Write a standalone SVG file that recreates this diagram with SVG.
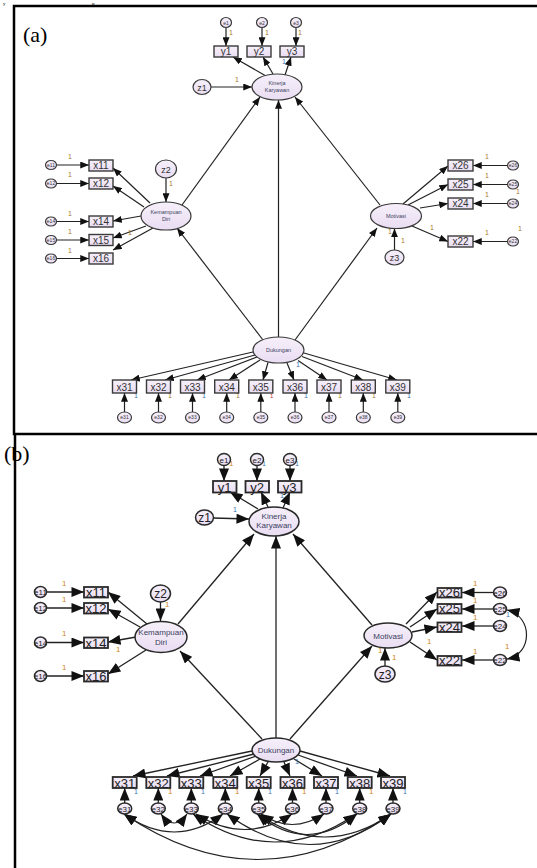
<svg xmlns="http://www.w3.org/2000/svg" width="537" height="868" viewBox="0 0 537 868">
<defs>
  <marker id="ah" viewBox="0 0 10 8" refX="10" refY="4" markerWidth="9" markerHeight="7" markerUnits="userSpaceOnUse" orient="auto">
    <path d="M0,0 L10,4 L0,8 z" fill="#111"/>
  </marker>
  <marker id="ahb" viewBox="0 0 10 8" refX="10" refY="4" markerWidth="13" markerHeight="10" markerUnits="userSpaceOnUse" orient="auto-start-reverse">
    <path d="M0,0 L10,4 L0,8 z" fill="#111"/>
  </marker>
  <linearGradient id="fillg" x1="0" y1="0" x2="0" y2="1">
    <stop offset="0" stop-color="#f6f0fa"/>
    <stop offset="1" stop-color="#e9ddf2"/>
  </linearGradient>
</defs>
<style>
  .frame{fill:none;stroke:#000;stroke-width:2.5}
  .cap{font-family:"Liberation Serif","Times New Roman",serif;font-size:22px;fill:#000}
  .frag{font-family:"Liberation Serif","Times New Roman",serif;font-size:5px;fill:#000}
  .lat{fill:url(#fillg);stroke:#3a3a3a;stroke-width:1.2}
  .obs{fill:url(#fillg);stroke:#3a3a3a;stroke-width:1.4}
  .latb{fill:url(#fillg);stroke:#2a2a2a;stroke-width:1.5}
  .obsb{fill:url(#fillg);stroke:#2a2a2a;stroke-width:1.8}
  .a{stroke:#222;stroke-width:1.2;fill:none;marker-end:url(#ah)}
  .b{stroke:#222;stroke-width:1.3;fill:none;marker-end:url(#ahb)}
  .cv{stroke:#222;stroke-width:1.2;fill:none;marker-start:url(#ahb);marker-end:url(#ahb)}
  .t{font-family:"Liberation Sans",Arial,sans-serif;text-anchor:middle;fill:#333}
  .tb{font-family:"Liberation Sans",Arial,sans-serif;text-anchor:middle;fill:#222}
  .lv{font-family:"Liberation Sans",Arial,sans-serif;text-anchor:middle;fill:#3c4260;font-size:5.5px}
  .lvb{font-family:"Liberation Sans",Arial,sans-serif;text-anchor:middle;fill:#3c4260;font-size:8px}
  .ev{font-family:"Liberation Sans",Arial,sans-serif;text-anchor:middle;fill:#333;font-size:5px}
  .evb{font-family:"Liberation Sans",Arial,sans-serif;text-anchor:middle;fill:#222;font-size:8px}
  .one{font-family:"Liberation Sans",Arial,sans-serif;font-size:7px;fill:#a8781e}
  .oneb{font-family:"Liberation Sans",Arial,sans-serif;font-size:8px;fill:#d08a1a}
  .blu{font-family:"Liberation Sans",Arial,sans-serif;font-size:7px;fill:#3a6fb5}
</style>

<!-- tail of the line above the figure -->
<text class="frag" x="3" y="4.8">y</text>
<text class="frag" x="92" y="4.8">p</text>

<!-- panel frames -->
<path class="frame" d="M540,6 H14 V434 H540"/>
<path class="frame" d="M15,433 V870"/>
<text class="cap" x="23" y="42">(a)</text>
<text class="cap" x="4" y="461">(b)</text>

<!-- ===================== PANEL (a) ===================== -->
<g id="a-connectors">
  <!-- errors to indicators -->
  <line class="a" x1="226" y1="28" x2="226" y2="46"/>
  <line class="a" x1="262" y1="28" x2="262" y2="46"/>
  <line class="a" x1="296" y1="28" x2="296" y2="46"/>
  <line class="a" x1="266" y1="76" x2="233" y2="57"/>
  <line class="a" x1="273" y1="74" x2="263" y2="57"/>
  <line class="a" x1="285" y1="75" x2="291" y2="57"/>
  <line class="a" x1="211" y1="87" x2="252" y2="87"/>

  <line class="a" x1="56" y1="165" x2="89" y2="165"/>
  <line class="a" x1="56" y1="183.5" x2="89" y2="183.5"/>
  <line class="a" x1="56" y1="221.5" x2="89" y2="221.5"/>
  <line class="a" x1="56" y1="240" x2="89" y2="240"/>
  <line class="a" x1="56" y1="258.5" x2="89" y2="258.5"/>
  <line class="a" x1="166" y1="178" x2="166" y2="202"/>
  <line class="a" x1="150" y1="203" x2="113" y2="168"/>
  <line class="a" x1="144" y1="207" x2="113" y2="186"/>
  <line class="a" x1="141" y1="216" x2="113" y2="221"/>
  <line class="a" x1="146" y1="226" x2="113" y2="238"/>
  <line class="a" x1="153" y1="228" x2="113" y2="250"/>

  <line class="a" x1="508" y1="165.5" x2="473" y2="165.5"/>
  <line class="a" x1="508" y1="184.5" x2="473" y2="184.5"/>
  <line class="a" x1="508" y1="203.5" x2="473" y2="203.5"/>
  <line class="a" x1="508" y1="241.5" x2="473" y2="241.5"/>
  <line class="a" x1="403" y1="204" x2="448" y2="166"/>
  <line class="a" x1="408" y1="205" x2="448" y2="184.5"/>
  <line class="a" x1="420" y1="208" x2="448" y2="203.5"/>
  <line class="a" x1="412" y1="226" x2="448" y2="241.5"/>
  <line class="a" x1="394.5" y1="250" x2="394.5" y2="228.5"/>

  <!-- structural paths -->
  <line class="a" x1="182" y1="205" x2="260" y2="97"/>
  <line class="a" x1="380" y1="205" x2="295" y2="97"/>
  <line class="a" x1="278.5" y1="337" x2="278.5" y2="100"/>
  <line class="a" x1="263" y1="340" x2="177" y2="228"/>
  <line class="a" x1="295" y1="340" x2="377" y2="228"/>

  <!-- Dukungan indicators -->
  <line class="a" x1="253" y1="352" x2="131" y2="380"/>
  <line class="a" x1="255" y1="355" x2="165" y2="380"/>
  <line class="a" x1="257" y1="357" x2="197" y2="380"/>
  <line class="a" x1="260" y1="360" x2="229" y2="380"/>
  <line class="a" x1="268" y1="362.5" x2="263" y2="380"/>
  <line class="a" x1="287" y1="363" x2="294" y2="380"/>
  <line class="a" x1="298" y1="360.5" x2="327" y2="380"/>
  <line class="a" x1="302" y1="356.5" x2="363" y2="380"/>
  <line class="a" x1="304" y1="353" x2="397" y2="380"/>

  <line class="a" x1="124.5" y1="412" x2="124.5" y2="393"/>
  <line class="a" x1="158.5" y1="412" x2="158.5" y2="393"/>
  <line class="a" x1="192.5" y1="412" x2="192.5" y2="393"/>
  <line class="a" x1="226.7" y1="412" x2="226.7" y2="393"/>
  <line class="a" x1="260.8" y1="412" x2="260.8" y2="393"/>
  <line class="a" x1="295" y1="412" x2="295" y2="393"/>
  <line class="a" x1="329" y1="412" x2="329" y2="393"/>
  <line class="a" x1="363.3" y1="412" x2="363.3" y2="393"/>
  <line class="a" x1="397.8" y1="412" x2="397.8" y2="393"/>
</g>

<g id="a-weights">
  <text class="one" x="229" y="35">1</text>
  <text class="one" x="265" y="35">1</text>
  <text class="one" x="298" y="35">1</text>
  <text class="blu" x="282" y="64">1</text>
  <text class="one" x="235" y="82">1</text>
  <text class="one" x="68" y="159">1</text>
  <text class="one" x="68" y="177">1</text>
  <text class="one" x="68" y="216">1</text>
  <text class="one" x="68" y="234">1</text>
  <text class="one" x="68" y="253">1</text>
  <text class="one" x="169" y="186">1</text>
  <text class="one" x="128" y="235">1</text>
  <text class="one" x="485" y="159">1</text>
  <text class="one" x="485" y="178">1</text>
  <text class="one" x="485" y="197">1</text>
  <text class="one" x="485" y="235">1</text>
  <text class="one" x="516" y="194">1</text>
  <text class="one" x="518" y="231">1</text>
  <text class="one" x="430" y="230">1</text>
  <text class="one" x="388" y="234">1</text>
  <text class="one" x="401" y="243">1</text>
  <text class="blu" x="296" y="367">1</text>
  <text class="blu" x="134" y="398" font-size="6">1</text>
  <text class="one" x="168" y="398" font-size="6">1</text>
  <text class="blu" x="202" y="398" font-size="6">1</text>
  <text class="one" x="236" y="398" font-size="6">1</text>
  <text fill="#c03030" font-family="Liberation Sans" font-size="6" x="270" y="398">1</text>
  <text class="blu" x="304" y="398" font-size="6">1</text>
  <text class="one" x="338" y="398" font-size="6">1</text>
  <text class="one" x="372" y="398" font-size="6">1</text>
  <text class="blu" x="407" y="398" font-size="6">1</text>
</g>

<g id="a-e1"><ellipse class="lat" cx="226" cy="22.5" rx="5.5" ry="5"/><text class="ev" x="226" y="24.5">e1</text></g>
<g id="a-e2"><ellipse class="lat" cx="262" cy="22.5" rx="5.5" ry="5"/><text class="ev" x="262" y="24.5">e2</text></g>
<g id="a-e3"><ellipse class="lat" cx="296" cy="22.5" rx="5.5" ry="5"/><text class="ev" x="296" y="24.5">e3</text></g>
<g id="a-y1"><rect class="obs" x="214" y="46" width="24" height="11"/><text class="t" x="226" y="55" font-size="10">y1</text></g>
<g id="a-y2"><rect class="obs" x="247" y="46" width="24" height="11"/><text class="t" x="259" y="55" font-size="10">y2</text></g>
<g id="a-y3"><rect class="obs" x="280" y="46" width="24" height="11"/><text class="t" x="292" y="55" font-size="10">y3</text></g>
<g id="a-z1"><ellipse class="lat" cx="202" cy="87" rx="9" ry="7.5"/><text class="t" x="202" y="90.5" font-size="9">z1</text></g>
<g id="a-kinerja"><ellipse class="lat" cx="277" cy="87" rx="25" ry="13"/><text class="lv" x="277" y="85">Kinerja</text><text class="lv" x="277" y="92">Karyawan</text></g>

<g id="a-e11"><ellipse class="lat" cx="51" cy="165" rx="5.5" ry="4.5"/><text class="ev" x="51" y="166.8" font-size="4.5">e11</text></g>
<g id="a-e12"><ellipse class="lat" cx="51" cy="183.5" rx="5.5" ry="4.5"/><text class="ev" x="51" y="185.3" font-size="4.5">e12</text></g>
<g id="a-e14"><ellipse class="lat" cx="51" cy="221.5" rx="5.5" ry="4.5"/><text class="ev" x="51" y="223.3" font-size="4.5">e14</text></g>
<g id="a-e15"><ellipse class="lat" cx="51" cy="240" rx="5.5" ry="4.5"/><text class="ev" x="51" y="241.8" font-size="4.5">e15</text></g>
<g id="a-e16"><ellipse class="lat" cx="51" cy="258.5" rx="5.5" ry="4.5"/><text class="ev" x="51" y="260.3" font-size="4.5">e16</text></g>
<g id="a-x11"><rect class="obs" x="89" y="160" width="24" height="11"/><text class="t" x="101" y="169" font-size="10">x11</text></g>
<g id="a-x12"><rect class="obs" x="89" y="178" width="24" height="11"/><text class="t" x="101" y="187" font-size="10">x12</text></g>
<g id="a-x14"><rect class="obs" x="89" y="216" width="24" height="11"/><text class="t" x="101" y="225" font-size="10">x14</text></g>
<g id="a-x15"><rect class="obs" x="89" y="234.5" width="24" height="11"/><text class="t" x="101" y="243.5" font-size="10">x15</text></g>
<g id="a-x16"><rect class="obs" x="89" y="253" width="24" height="11"/><text class="t" x="101" y="262" font-size="10">x16</text></g>
<g id="a-z2"><ellipse class="lat" cx="166" cy="169" rx="10.5" ry="9"/><text class="t" x="166" y="172.5" font-size="9">z2</text></g>
<g id="a-kemampuan"><ellipse class="lat" cx="166" cy="216" rx="25" ry="14"/><text class="lv" x="166" y="214">Kemampuan</text><text class="lv" x="166" y="221">Diri</text></g>

<g id="a-x26"><rect class="obs" x="448" y="160" width="25" height="11"/><text class="t" x="460.5" y="169" font-size="10">x26</text></g>
<g id="a-x25"><rect class="obs" x="448" y="179" width="25" height="11"/><text class="t" x="460.5" y="188" font-size="10">x25</text></g>
<g id="a-x24"><rect class="obs" x="448" y="198" width="25" height="11"/><text class="t" x="460.5" y="207" font-size="10">x24</text></g>
<g id="a-x22"><rect class="obs" x="448" y="236" width="25" height="11"/><text class="t" x="460.5" y="245" font-size="10">x22</text></g>
<g id="a-e26"><ellipse class="lat" cx="513" cy="165.5" rx="5.5" ry="4.5"/><text class="ev" x="513" y="167.3" font-size="4.5">e26</text></g>
<g id="a-e25"><ellipse class="lat" cx="513" cy="184.5" rx="5.5" ry="4.5"/><text class="ev" x="513" y="186.3" font-size="4.5">e25</text></g>
<g id="a-e24"><ellipse class="lat" cx="513" cy="203.5" rx="5.5" ry="4.5"/><text class="ev" x="513" y="205.3" font-size="4.5">e24</text></g>
<g id="a-e22"><ellipse class="lat" cx="513" cy="241.5" rx="5.5" ry="4.5"/><text class="ev" x="513" y="243.3" font-size="4.5">e22</text></g>
<g id="a-motivasi"><ellipse class="lat" cx="396" cy="216" rx="25.5" ry="12.5"/><text class="lv" x="396" y="218">Motivasi</text></g>
<g id="a-z3"><ellipse class="lat" cx="394.5" cy="257.5" rx="9.5" ry="7.5"/><text class="t" x="394.5" y="261" font-size="9">z3</text></g>

<g id="a-dukungan"><ellipse class="lat" cx="278.5" cy="350" rx="25.5" ry="13"/><text class="lv" x="278.5" y="352">Dukungan</text></g>
<g id="a-x31"><rect class="obs" x="112.5" y="380" width="24" height="13"/><text class="t" x="124.5" y="390.5" font-size="10">x31</text></g>
<g id="a-x32"><rect class="obs" x="146.5" y="380" width="24" height="13"/><text class="t" x="158.5" y="390.5" font-size="10">x32</text></g>
<g id="a-x33"><rect class="obs" x="180.5" y="380" width="24" height="13"/><text class="t" x="192.5" y="390.5" font-size="10">x33</text></g>
<g id="a-x34"><rect class="obs" x="214.7" y="380" width="24" height="13"/><text class="t" x="226.7" y="390.5" font-size="10">x34</text></g>
<g id="a-x35"><rect class="obs" x="248.8" y="380" width="24" height="13"/><text class="t" x="260.8" y="390.5" font-size="10">x35</text></g>
<g id="a-x36"><rect class="obs" x="283" y="380" width="24" height="13"/><text class="t" x="295" y="390.5" font-size="10">x36</text></g>
<g id="a-x37"><rect class="obs" x="317" y="380" width="24" height="13"/><text class="t" x="329" y="390.5" font-size="10">x37</text></g>
<g id="a-x38"><rect class="obs" x="351.3" y="380" width="24" height="13"/><text class="t" x="363.3" y="390.5" font-size="10">x38</text></g>
<g id="a-x39"><rect class="obs" x="385.8" y="380" width="24" height="13"/><text class="t" x="397.8" y="390.5" font-size="10">x39</text></g>
<g id="a-e31"><ellipse class="lat" cx="124.5" cy="417.5" rx="7" ry="5.5"/><text class="ev" x="124.5" y="419.3">e31</text></g>
<g id="a-e32"><ellipse class="lat" cx="158.5" cy="417.5" rx="7" ry="5.5"/><text class="ev" x="158.5" y="419.3">e32</text></g>
<g id="a-e33"><ellipse class="lat" cx="192.5" cy="417.5" rx="7" ry="5.5"/><text class="ev" x="192.5" y="419.3">e33</text></g>
<g id="a-e34"><ellipse class="lat" cx="226.7" cy="417.5" rx="7" ry="5.5"/><text class="ev" x="226.7" y="419.3">e34</text></g>
<g id="a-e35"><ellipse class="lat" cx="260.8" cy="417.5" rx="7" ry="5.5"/><text class="ev" x="260.8" y="419.3">e35</text></g>
<g id="a-e36"><ellipse class="lat" cx="295" cy="417.5" rx="7" ry="5.5"/><text class="ev" x="295" y="419.3">e36</text></g>
<g id="a-e37"><ellipse class="lat" cx="329" cy="417.5" rx="7" ry="5.5"/><text class="ev" x="329" y="419.3">e37</text></g>
<g id="a-e38"><ellipse class="lat" cx="363.3" cy="417.5" rx="7" ry="5.5"/><text class="ev" x="363.3" y="419.3">e38</text></g>
<g id="a-e39"><ellipse class="lat" cx="397.8" cy="417.5" rx="7" ry="5.5"/><text class="ev" x="397.8" y="419.3">e39</text></g>

<!-- ===================== PANEL (b) ===================== -->
<g id="b-connectors">
  <line class="b" x1="224" y1="465" x2="224" y2="481"/>
  <line class="b" x1="257" y1="465" x2="257" y2="481"/>
  <line class="b" x1="290" y1="465" x2="290" y2="481"/>
  <line class="b" x1="258" y1="509" x2="230" y2="492"/>
  <line class="b" x1="268" y1="507" x2="261" y2="492"/>
  <line class="b" x1="283" y1="508" x2="290" y2="492"/>
  <line class="b" x1="213" y1="518" x2="249" y2="519"/>

  <line class="b" x1="46" y1="592" x2="84" y2="592"/>
  <line class="b" x1="46" y1="608" x2="84" y2="608"/>
  <line class="b" x1="46" y1="642.5" x2="84" y2="642.5"/>
  <line class="b" x1="46" y1="676" x2="84" y2="676"/>
  <line class="b" x1="160.5" y1="602" x2="160.5" y2="621"/>
  <line class="b" x1="147" y1="624" x2="108" y2="592"/>
  <line class="b" x1="140" y1="627" x2="108" y2="609"/>
  <line class="b" x1="136" y1="637" x2="108" y2="642"/>
  <line class="b" x1="146" y1="650" x2="108" y2="674"/>

  <line class="b" x1="493" y1="592.5" x2="462" y2="592.5"/>
  <line class="b" x1="493" y1="609" x2="462" y2="609"/>
  <line class="b" x1="493" y1="626" x2="462" y2="626"/>
  <line class="b" x1="493" y1="660" x2="462" y2="660"/>
  <line class="b" x1="406" y1="624" x2="437" y2="592"/>
  <line class="b" x1="410" y1="627" x2="437" y2="609"/>
  <line class="b" x1="412" y1="632" x2="437" y2="627"/>
  <line class="b" x1="410" y1="642" x2="437" y2="660"/>
  <line class="b" x1="385" y1="666" x2="385" y2="648"/>
  <path class="cv" d="M507,610 C533,616 533,654 507,659"/>

  <line class="b" x1="178" y1="624" x2="254" y2="534"/>
  <line class="b" x1="372" y1="625" x2="293" y2="534"/>
  <line class="b" x1="276" y1="738" x2="276" y2="536"/>
  <line class="b" x1="262" y1="739" x2="180" y2="651"/>
  <line class="b" x1="290" y1="739" x2="372" y2="646"/>

  <line class="b" x1="252" y1="751" x2="133" y2="776"/>
  <line class="b" x1="254" y1="754" x2="167" y2="776"/>
  <line class="b" x1="256" y1="756" x2="200" y2="776"/>
  <line class="b" x1="260" y1="759" x2="230" y2="776"/>
  <line class="b" x1="268" y1="762" x2="260" y2="776"/>
  <line class="b" x1="284" y1="762" x2="290" y2="776"/>
  <line class="b" x1="294" y1="759" x2="322" y2="776"/>
  <line class="b" x1="298" y1="755" x2="357" y2="776"/>
  <line class="b" x1="300" y1="751" x2="390" y2="776"/>

  <line class="b" x1="124.7" y1="803" x2="124.7" y2="788"/>
  <line class="b" x1="158.3" y1="803" x2="158.3" y2="788"/>
  <line class="b" x1="191.3" y1="803" x2="191.3" y2="788"/>
  <line class="b" x1="225.3" y1="803" x2="225.3" y2="788"/>
  <line class="b" x1="258.7" y1="803" x2="258.7" y2="788"/>
  <line class="b" x1="292.5" y1="803" x2="292.5" y2="788"/>
  <line class="b" x1="326" y1="803" x2="326" y2="788"/>
  <line class="b" x1="359.7" y1="803" x2="359.7" y2="788"/>
  <line class="b" x1="393" y1="803" x2="393" y2="788"/>

  <!-- error covariances -->
  <path class="cv" d="M161,814 Q174,832 187,814"/>
  <path class="cv" d="M124,814 Q175,850 223,814"/>
  <path class="cv" d="M124,814 Q258,905 391,814"/>
  <path class="cv" d="M193,814 Q275,870 356,814"/>
  <path class="cv" d="M227,814 Q310,875 391,814"/>
  <path class="cv" d="M196,814 Q245,845 292,814"/>
  <path class="cv" d="M258,814 Q325,860 391,814"/>
  <path class="cv" d="M261,814 Q292,835 324,814"/>
  <path class="cv" d="M257,814 Q307,855 357,814"/>
</g>

<g id="b-weights">
  <text class="oneb" x="229" y="466">1</text>
  <text class="blu" x="262" y="466" font-size="8">1</text>
  <text class="blu" x="295" y="466" font-size="8">1</text>
  <text class="blu" x="280" y="498" font-size="8">1</text>
  <text class="blu" x="233" y="512" font-size="8">1</text>
  <text class="oneb" x="62" y="586">1</text>
  <text class="oneb" x="62" y="602">1</text>
  <text class="oneb" x="62" y="636">1</text>
  <text class="oneb" x="62" y="670">1</text>
  <text class="oneb" x="165" y="607">1</text>
  <text class="oneb" x="116" y="652">1</text>
  <text class="oneb" x="473" y="586">1</text>
  <text class="oneb" x="473" y="603">1</text>
  <text class="oneb" x="473" y="620">1</text>
  <text class="oneb" x="473" y="654">1</text>
  <text class="oneb" x="427" y="644">1</text>
  <text class="oneb" x="505" y="649">1</text>
  <text class="blu" x="506" y="617" font-size="6">1</text>
  <text class="oneb" x="378" y="653">1</text>
  <text class="oneb" x="392" y="660">1</text>
  <text class="blu" x="295" y="764" font-size="8">1</text>
  <text class="blu" x="134" y="794" font-size="6">1</text>
  <text class="oneb" x="168" y="794" font-size="6">1</text>
  <text class="blu" x="201" y="794" font-size="6">1</text>
  <text class="oneb" x="235" y="794" font-size="6">1</text>
  <text class="blu" x="268" y="794" font-size="6">1</text>
  <text class="oneb" x="302" y="794" font-size="6">1</text>
  <text class="blu" x="335" y="794" font-size="6">1</text>
  <text class="oneb" x="369" y="794" font-size="6">1</text>
  <text class="blu" x="403" y="794" font-size="6">1</text>
</g>

<g id="b-e1"><ellipse class="latb" cx="224" cy="459.5" rx="6.5" ry="6"/><text class="evb" x="224" y="462.5">e1</text></g>
<g id="b-e2"><ellipse class="latb" cx="257" cy="459.5" rx="6.5" ry="6"/><text class="evb" x="257" y="462.5">e2</text></g>
<g id="b-e3"><ellipse class="latb" cx="290" cy="459.5" rx="6.5" ry="6"/><text class="evb" x="290" y="462.5">e3</text></g>
<g id="b-y1"><rect class="obsb" x="213" y="481" width="23.5" height="11.5"/><text class="tb" x="224.7" y="491.5" font-size="13">y1</text></g>
<g id="b-y2"><rect class="obsb" x="245.5" y="481" width="23.5" height="11.5"/><text class="tb" x="257.2" y="491.5" font-size="13">y2</text></g>
<g id="b-y3"><rect class="obsb" x="278" y="481" width="23.5" height="11.5"/><text class="tb" x="289.7" y="491.5" font-size="13">y3</text></g>
<g id="b-z1"><ellipse class="latb" cx="204.5" cy="517.5" rx="9" ry="7.5"/><text class="tb" x="204.5" y="522" font-size="12">z1</text></g>
<g id="b-kinerja"><ellipse class="latb" cx="274" cy="521.5" rx="25" ry="14.5"/><text class="lvb" x="274" y="519">Kinerja</text><text class="lvb" x="274" y="528">Karyawan</text></g>

<g id="b-e11"><ellipse class="latb" cx="40.5" cy="592" rx="6" ry="5.5"/><text class="evb" x="40.5" y="595">e11</text></g>
<g id="b-e12"><ellipse class="latb" cx="40.5" cy="608" rx="6" ry="5.5"/><text class="evb" x="40.5" y="611">e12</text></g>
<g id="b-e14"><ellipse class="latb" cx="40.5" cy="642.5" rx="6" ry="5.5"/><text class="evb" x="40.5" y="645.5">e14</text></g>
<g id="b-e16"><ellipse class="latb" cx="40.5" cy="676" rx="6" ry="5.5"/><text class="evb" x="40.5" y="679">e16</text></g>
<g id="b-x11"><rect class="obsb" x="84" y="587" width="24" height="10.5"/><text class="tb" x="96" y="597" font-size="13">x11</text></g>
<g id="b-x12"><rect class="obsb" x="84" y="603" width="24" height="10.5"/><text class="tb" x="96" y="613" font-size="13">x12</text></g>
<g id="b-x14"><rect class="obsb" x="84" y="637.5" width="24" height="10.5"/><text class="tb" x="96" y="647.5" font-size="13">x14</text></g>
<g id="b-x16"><rect class="obsb" x="84" y="671" width="24" height="10.5"/><text class="tb" x="96" y="681" font-size="13">x16</text></g>
<g id="b-z2"><ellipse class="latb" cx="160.5" cy="593.5" rx="10" ry="8.5"/><text class="tb" x="160.5" y="598" font-size="12">z2</text></g>
<g id="b-kemampuan"><ellipse class="latb" cx="161" cy="637" rx="26" ry="15.5"/><text class="lvb" x="161" y="635">Kemampuan</text><text class="lvb" x="161" y="645">Diri</text></g>

<g id="b-x26"><rect class="obsb" x="437.5" y="588" width="24" height="9.5"/><text class="tb" x="449.5" y="597" font-size="13">x26</text></g>
<g id="b-x25"><rect class="obsb" x="437.5" y="604" width="24" height="9.5"/><text class="tb" x="449.5" y="613" font-size="13">x25</text></g>
<g id="b-x24"><rect class="obsb" x="437.5" y="622.5" width="24" height="9.5"/><text class="tb" x="449.5" y="631.5" font-size="13">x24</text></g>
<g id="b-x22"><rect class="obsb" x="437.5" y="656" width="24" height="9.5"/><text class="tb" x="449.5" y="665" font-size="13">x22</text></g>
<g id="b-e26"><ellipse class="latb" cx="500" cy="592.5" rx="6.5" ry="5.5"/><text class="evb" x="500" y="595.5">e26</text></g>
<g id="b-e25"><ellipse class="latb" cx="500" cy="609" rx="6.5" ry="5.5"/><text class="evb" x="500" y="612">e25</text></g>
<g id="b-e24"><ellipse class="latb" cx="500" cy="626" rx="6.5" ry="5.5"/><text class="evb" x="500" y="629">e24</text></g>
<g id="b-e22"><ellipse class="latb" cx="500" cy="660" rx="6.5" ry="5.5"/><text class="evb" x="500" y="663">e22</text></g>
<g id="b-motivasi"><ellipse class="latb" cx="388" cy="635.5" rx="24" ry="12.5"/><text class="lvb" x="388" y="638.5">Motivasi</text></g>
<g id="b-z3"><ellipse class="latb" cx="385" cy="674" rx="10" ry="8"/><text class="tb" x="385" y="678.5" font-size="12">z3</text></g>

<g id="b-dukungan"><ellipse class="latb" cx="276" cy="750" rx="24" ry="12"/><text class="lvb" x="276" y="753">Dukungan</text></g>
<g id="b-x31"><rect class="obsb" x="112.7" y="777" width="24" height="11"/><text class="tb" x="124.7" y="787.5" font-size="13">x31</text></g>
<g id="b-x32"><rect class="obsb" x="146.3" y="777" width="24" height="11"/><text class="tb" x="158.3" y="787.5" font-size="13">x32</text></g>
<g id="b-x33"><rect class="obsb" x="179.3" y="777" width="24" height="11"/><text class="tb" x="191.3" y="787.5" font-size="13">x33</text></g>
<g id="b-x34"><rect class="obsb" x="213.3" y="777" width="24" height="11"/><text class="tb" x="225.3" y="787.5" font-size="13">x34</text></g>
<g id="b-x35"><rect class="obsb" x="246.7" y="777" width="24" height="11"/><text class="tb" x="258.7" y="787.5" font-size="13">x35</text></g>
<g id="b-x36"><rect class="obsb" x="280.5" y="777" width="24" height="11"/><text class="tb" x="292.5" y="787.5" font-size="13">x36</text></g>
<g id="b-x37"><rect class="obsb" x="314" y="777" width="24" height="11"/><text class="tb" x="326" y="787.5" font-size="13">x37</text></g>
<g id="b-x38"><rect class="obsb" x="347.7" y="777" width="24" height="11"/><text class="tb" x="359.7" y="787.5" font-size="13">x38</text></g>
<g id="b-x39"><rect class="obsb" x="381" y="777" width="24" height="11"/><text class="tb" x="393" y="787.5" font-size="13">x39</text></g>
<g id="b-e31"><ellipse class="latb" cx="124.7" cy="808.5" rx="7" ry="5.5"/><text class="evb" x="124.7" y="811.5">e31</text></g>
<g id="b-e32"><ellipse class="latb" cx="158.3" cy="808.5" rx="7" ry="5.5"/><text class="evb" x="158.3" y="811.5">e32</text></g>
<g id="b-e33"><ellipse class="latb" cx="191.3" cy="808.5" rx="7" ry="5.5"/><text class="evb" x="191.3" y="811.5">e33</text></g>
<g id="b-e34"><ellipse class="latb" cx="225.3" cy="808.5" rx="7" ry="5.5"/><text class="evb" x="225.3" y="811.5">e34</text></g>
<g id="b-e35"><ellipse class="latb" cx="258.7" cy="808.5" rx="7" ry="5.5"/><text class="evb" x="258.7" y="811.5">e35</text></g>
<g id="b-e36"><ellipse class="latb" cx="292.5" cy="808.5" rx="7" ry="5.5"/><text class="evb" x="292.5" y="811.5">e36</text></g>
<g id="b-e37"><ellipse class="latb" cx="326" cy="808.5" rx="7" ry="5.5"/><text class="evb" x="326" y="811.5">e37</text></g>
<g id="b-e38"><ellipse class="latb" cx="359.7" cy="808.5" rx="7" ry="5.5"/><text class="evb" x="359.7" y="811.5">e38</text></g>
<g id="b-e39"><ellipse class="latb" cx="393" cy="808.5" rx="7" ry="5.5"/><text class="evb" x="393" y="811.5">e39</text></g>
</svg>
